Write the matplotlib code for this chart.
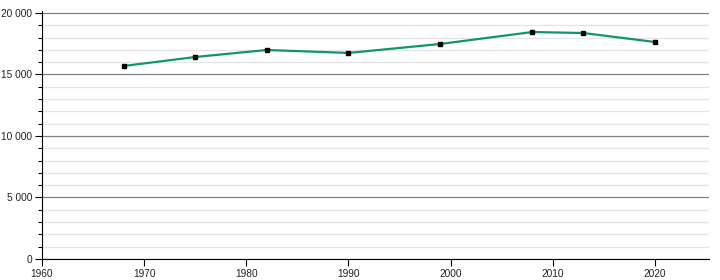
import matplotlib.pyplot as plt
from matplotlib.ticker import FuncFormatter, MultipleLocator

years = [1968, 1975, 1982, 1990, 1999, 2008, 2013, 2020]
population = [15690, 16420, 16990, 16750, 17480, 18450, 18370, 17640]

plt.rcParams['font.family'] = ['Liberation Sans', 'DejaVu Sans']

fig = plt.figure(figsize=(7.2, 2.8), dpi=100)
ax = fig.add_axes([42 / 720, 21 / 280, 667 / 720, 248.5 / 280])

ax.plot(years, population, color='#11966b', lw=1.6, zorder=3)
ax.plot(years, population, 's', color='black', ms=3.5, zorder=4)

ax.set_xlim(1960, 2025.3)
ax.set_ylim(0, 20200)

ax.xaxis.set_major_locator(MultipleLocator(10))
ax.yaxis.set_major_locator(MultipleLocator(5000))
ax.yaxis.set_minor_locator(MultipleLocator(1000))
ax.yaxis.set_major_formatter(FuncFormatter(lambda v, p: f'{int(v):,}'.replace(',', ' ')))

# grid
ax.grid(which='major', axis='y', color='#808080', lw=0.9)
ax.grid(which='minor', axis='y', color='#e4e4e4', lw=0.9)
ax.set_axisbelow(True)

for s in ['top', 'right']:
    ax.spines[s].set_visible(False)
ax.spines['left'].set_color('black')
ax.spines['bottom'].set_color('black')

ax.tick_params(axis='both', which='major', labelsize=7.3, length=5, width=0.8, pad=2,
               labelcolor='#222222')
ax.tick_params(axis='y', which='minor', length=3, width=0.8)

fig.savefig('out.png', dpi=100)
